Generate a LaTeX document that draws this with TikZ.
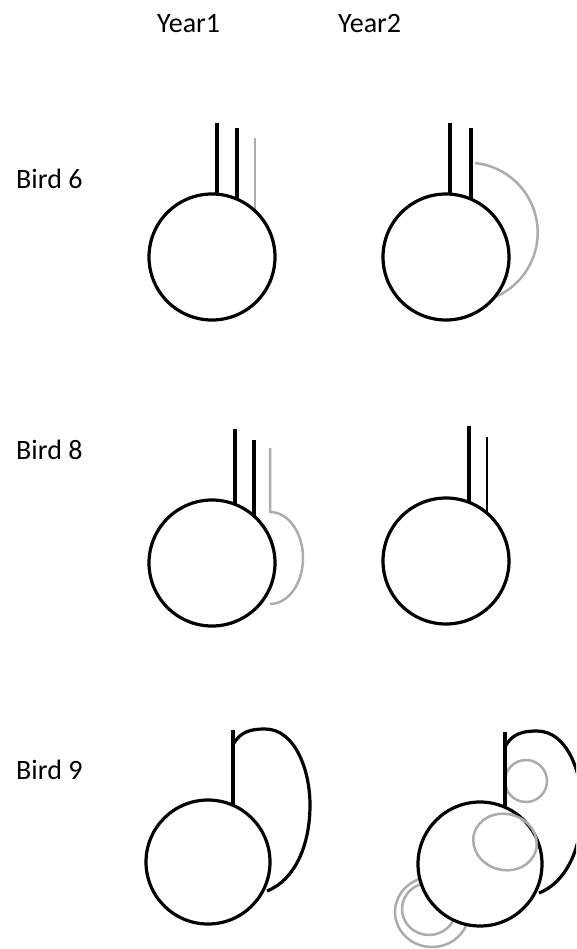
\documentclass[tikz,border=0pt]{standalone}
\usepackage{fontspec}
\setmainfont{Carlito}
\definecolor{lightgr}{RGB}{172,172,172}
\tikzset{
  blk/.style={line width=3.2pt, black},
  thinblk/.style={line width=2.2pt, black},
  gry/.style={line width=2.5pt, lightgr},
  body/.style={line width=3.2pt, black, fill=white},
  lbl/.style={anchor=base west, inner sep=0pt, font=\fontsize{28}{33}\selectfont}
}
\begin{document}
\begin{tikzpicture}[x=1pt, y=-1pt]
\useasboundingbox (0,0) rectangle (576,949);
\clip (0,0) rectangle (576,949);
% headers
\node[lbl] (y1) at (157,33) {Year1};
\node[lbl] (y2) at (338,33) {Year2};
\node[lbl] (b6) at (16,189) {Bird 6};
\node[lbl] (b8) at (16,459) {Bird 8};
\node[lbl] (b9) at (16,779) {Bird 9};

% ---------- Bird 6 Year 1
\draw[blk] (217,123) -- (217,250);
\draw[blk] (237,128) -- (237,250);
\draw[gry] (255,138) -- (255,250);
\draw[body] (212,257) circle[radius=63];

% ---------- Bird 6 Year 2
\draw[blk] (450,123) -- (450,250);
\draw[blk] (471,128) -- (471,250);
\draw[gry] (475,163) arc[start angle=-84, end angle=74, radius=70];
\draw[body] (446,257) circle[radius=63];

% ---------- Bird 8 Year 1
\draw[blk] (235,429) -- (235,550);
\draw[blk] (254,440) -- (254,550);
\draw[gry] (270,448) -- (270,512) arc[start angle=-90, end angle=90, x radius=33, y radius=46];
\draw[body] (212,563) circle[radius=63];

% ---------- Bird 8 Year 2
\draw[blk] (469,426) -- (469,550);
\draw[thinblk] (487,437) -- (487,550);
\draw[body] (446,561) circle[radius=63];

% ---------- Bird 9 Year 1
\draw[blk] (233,730) -- (233,850);
\draw[blk] (233,745) .. controls (240,731) and (252,729) .. (265,729)
  .. controls (295,729) and (310,770) .. (310,805)
  .. controls (310,845) and (295,880) .. (267,891);
\draw[body] (208,862) circle[radius=62];

% ---------- Bird 9 Year 2
\draw[gry] (526,781) ellipse[x radius=21, y radius=21];
\draw[gry] (432,912) ellipse[x radius=37, y radius=35];
\draw[gry] (429,909) ellipse[x radius=27, y radius=26];
\begin{scope}[shift={(272,2)}]
\draw[blk] (233,730) -- (233,850);
\draw[blk] (233,745) .. controls (240,731) and (252,729) .. (265,729)
  .. controls (295,729) and (310,770) .. (310,805)
  .. controls (310,845) and (295,880) .. (267,891);
\draw[body] (208,862) circle[radius=62];
\end{scope}
\draw[gry, rotate around={-15:(505,842)}] (505,842) ellipse[x radius=32, y radius=28];
\end{tikzpicture}
\end{document}
